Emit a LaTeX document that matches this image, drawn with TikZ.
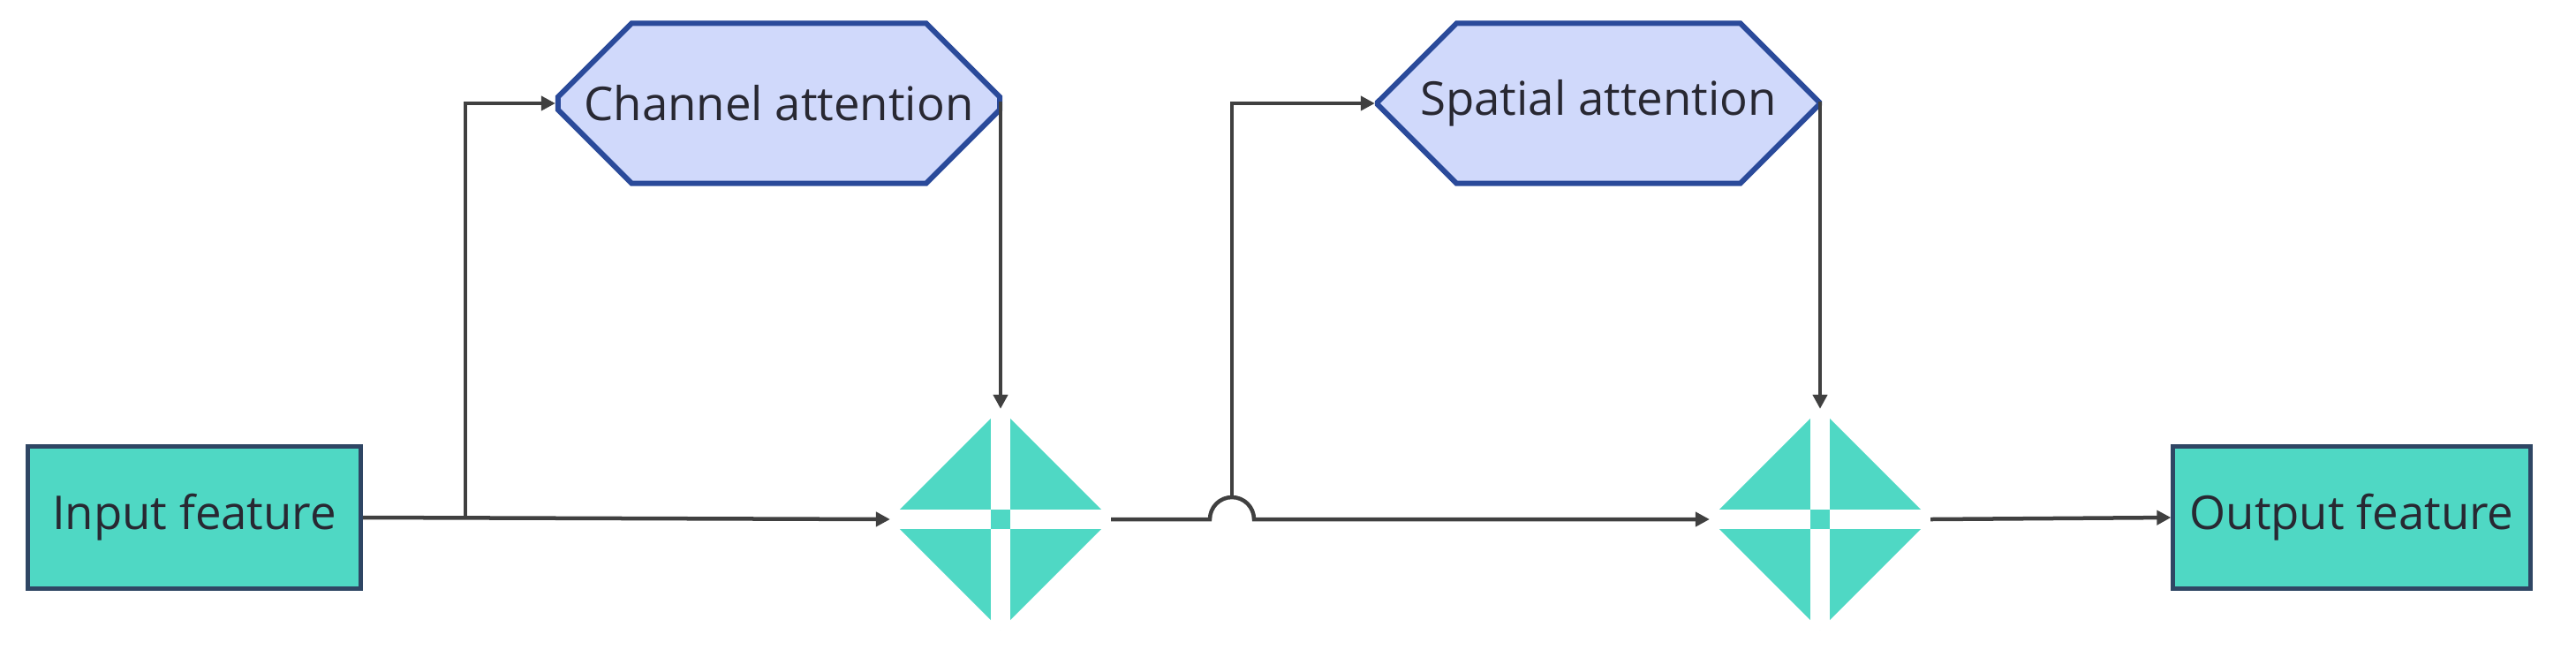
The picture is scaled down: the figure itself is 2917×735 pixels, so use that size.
\documentclass[tikz,border=0pt]{standalone}
\usepackage{fontspec}
\setmainfont{Open Sans}
\usetikzlibrary{shapes.geometric,shapes.misc,arrows.meta}
\definecolor{teal1}{RGB}{79,216,196}
\definecolor{octfill}{RGB}{208,217,251}
\definecolor{octline}{RGB}{42,74,154}
\definecolor{boxline}{RGB}{47,70,100}
\definecolor{txt}{RGB}{40,40,50}
\begin{document}
\begin{tikzpicture}[x=0.01cm,y=-0.01cm,
  box/.style={draw=boxline,line width=0.05cm,fill=teal1,minimum width=3.77cm,minimum height=1.6cm,font=\fontsize{15}{18}\selectfont,text=txt,inner sep=0},
  oct/.style={chamfered rectangle,chamfered rectangle xsep=0.58cm,chamfered rectangle ysep=0.63cm,draw=octline,line width=0.06cm,fill=octfill,minimum width=5.0cm,minimum height=1.81cm,inner sep=0,font=\fontsize{15}{18}\selectfont,text=txt},
  dia/.style={diamond,fill=teal1,minimum width=2.5cm,minimum height=2.5cm,inner sep=0,outer sep=0},
  conn/.style={draw=black!75,line width=0.045cm},
  arr/.style={conn,-{Triangle[length=0.16cm,width=0.16cm]}}]
\useasboundingbox (0,0) rectangle (2917,735);
\node[box] (in) at (220,586) {Input feature};
\node[box,minimum width=4.04cm] (out) at (2663,586) {Output feature};
\node[oct] (ca) at (882,117) {Channel attention};
\node[oct] (sa) at (1810,117) {Spatial attention};
\node[dia] (d1) at (1133,588) {};
\node[dia] (d2) at (2061,588) {};
\foreach \d in {d1,d2}{
  \draw[white,line width=0.22cm] (\d.north) -- (\d.south) (\d.west) -- (\d.east);
  \fill[teal1] ([xshift=-0.11cm,yshift=-0.11cm]\d.center) rectangle ([xshift=0.11cm,yshift=0.11cm]\d.center);
}
\coordinate (b1) at (527,588);
\coordinate (b2) at (1395,563);
\draw[arr] (in.east) -- (d1.west);
\draw[arr] (b1) |- (ca.west);
\draw[arr] (ca.east) -| (d1.north);
\draw[arr] (d1.east) -- (1370,588) arc[start angle=180,end angle=360,radius=25] -- (d2.west);
\draw[arr] (b2) |- (sa.west);
\draw[arr] (sa.east) -| (d2.north);
\draw[arr] (d2.east) -- (out.west);
\end{tikzpicture}
\end{document}
